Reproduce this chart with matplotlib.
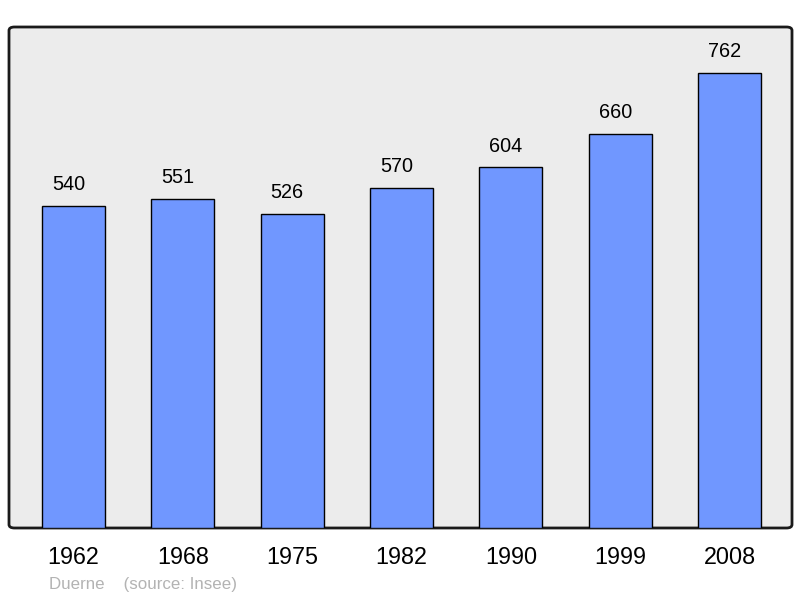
import matplotlib

matplotlib.use("Agg")
from matplotlib import pyplot as plt
from matplotlib.patches import FancyBboxPatch

years = ["1962", "1968", "1975", "1982", "1990", "1999", "2008"]
population = [540, 551, 526, 570, 604, 660, 762]

plt.rcParams["font.family"] = ["Liberation Sans", "DejaVu Sans"]

fig = plt.figure(figsize=(8, 5.98), dpi=100)
# axes box in pixels: left 9, right 792, top 27, bottom 528
ax = fig.add_axes([9 / 800, 1 - 528 / 598, 783 / 800, 501 / 598])
ax.set_facecolor("none")

frame = FancyBboxPatch((0, 0), 1, 1,
                       boxstyle="round,pad=0,rounding_size=0.007",
                       transform=ax.transAxes, facecolor="#ececec",
                       edgecolor="#1a1a1a", linewidth=2.0, zorder=0,
                       clip_on=False)
ax.add_patch(frame)

xs = list(range(len(years)))
ax.bar(xs, population, width=0.576, color="#7097ff", edgecolor="#000000",
       linewidth=1.0, zorder=2)
# value labels sit a little left of the bar centre in the original
for x, v in zip(xs, population):
    ax.annotate(str(v), (x, v), xytext=(-3.6, 11.2), textcoords="offset points",
                ha="center", va="baseline", fontsize=14.3, color="#000000")

ax.set_xlim(-0.59, 6.57)
ax.set_ylim(0, 839)
ax.set_xticks(xs)
ax.set_xticklabels(years, fontsize=16.8)
ax.tick_params(axis="x", length=0, pad=13)
ax.set_yticks([])
for s in ax.spines.values():
    s.set_visible(False)

fig.text(49 / 800, 1 - 584 / 598, "Duerne    (source: Insee)", fontsize=12.2,
         color="#b3b3b3", ha="left", va="center")

fig.savefig("out.png", dpi=100)
